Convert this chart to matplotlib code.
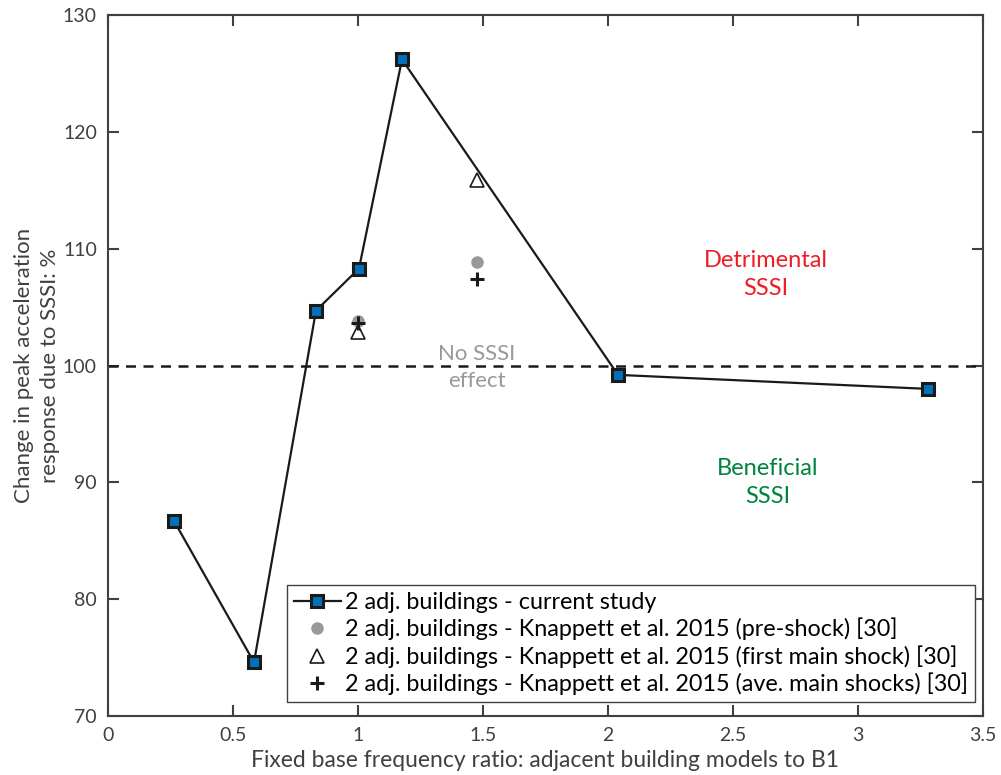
import matplotlib.pyplot as plt

plt.rcParams['font.family'] = ['Lato', 'DejaVu Sans']

# current study: fixed base frequency ratio vs change in peak acceleration
ratio = [0.264, 0.584, 0.832, 1.004, 1.176, 2.04, 3.28]
change = [86.7, 74.6, 104.7, 108.3, 126.2, 99.2, 98.0]

# Knappett et al. 2015 centrifuge results
knap_ratio = [1.0, 1.476]
pre_shock = [103.8, 108.9]
first_main = [102.9, 115.9]
ave_main = [103.6, 107.4]

fig = plt.figure(figsize=(10.01, 7.75), dpi=100)
ax = fig.add_axes([0.1079, 0.0761, 0.8741, 0.9045])

ax.plot([0, 3.5], [100, 100], '--', color='#1a1a1a', lw=1.8, dashes=(4, 3))

ax.plot(ratio, change, '-s', color='#1a1a1a', lw=1.6, markersize=9,
        markerfacecolor='#0072BD', markeredgecolor='#1a1a1a', markeredgewidth=2.2,
        label='2 adj. buildings - current study')
ax.plot(knap_ratio, pre_shock, 'o', color='#999999', markersize=8,
        label='2 adj. buildings - Knappett et al. 2015 (pre-shock) [30]')
ax.plot(knap_ratio, first_main, '^', markerfacecolor='white', markeredgecolor='#1a1a1a',
        markersize=10, markeredgewidth=1.2,
        label='2 adj. buildings - Knappett et al. 2015 (first main shock) [30]')
ax.plot(knap_ratio, ave_main, '+', color='#1a1a1a', markersize=10, markeredgewidth=2.2,
        label='2 adj. buildings - Knappett et al. 2015 (ave. main shocks) [30]')

ax.text(2.63, 107.8, 'Detrimental\nSSSI', color='#ee1c25', fontsize=17,
        ha='center', va='center', linespacing=1.4)
ax.text(1.476, 99.8, 'No SSSI\neffect', color='#999999', fontsize=16,
        ha='center', va='center', linespacing=1.45)
ax.text(2.64, 90.0, 'Beneficial\nSSSI', color='#00843d', fontsize=17,
        ha='center', va='center', linespacing=1.4)

ax.set_xlim(0, 3.5)
ax.set_ylim(70, 130)
ax.set_xticks([0, 0.5, 1, 1.5, 2, 2.5, 3, 3.5])
ax.set_xticklabels(['0', '0.5', '1', '1.5', '2', '2.5', '3', '3.5'])
ax.set_yticks([70, 80, 90, 100, 110, 120, 130])
ax.tick_params(direction='in', top=True, right=True, length=8, width=1.5,
               labelsize=14, colors='#404040', labelcolor='#404040', pad=8)
for s in ax.spines.values():
    s.set_color('#404040')
    s.set_linewidth(1.5)

ax.set_xlabel('Fixed base frequency ratio: adjacent building models to B1',
              fontsize=16.5, color='#404040', labelpad=4)
ax.set_ylabel('Change in peak acceleration\nresponse due to SSSI: %',
              fontsize=16, color='#404040', labelpad=2, linespacing=1.4)

leg = ax.legend(loc='lower left', bbox_to_anchor=(0.2046, 0.02), fontsize=16.8,
                handlelength=2.0, handletextpad=0.2, borderpad=0.3,
                labelspacing=0.2, fancybox=False, framealpha=1, borderaxespad=0)
leg.get_frame().set_edgecolor('#404040')
leg.get_frame().set_linewidth(1.0)

fig.savefig('out.png', dpi=100)
